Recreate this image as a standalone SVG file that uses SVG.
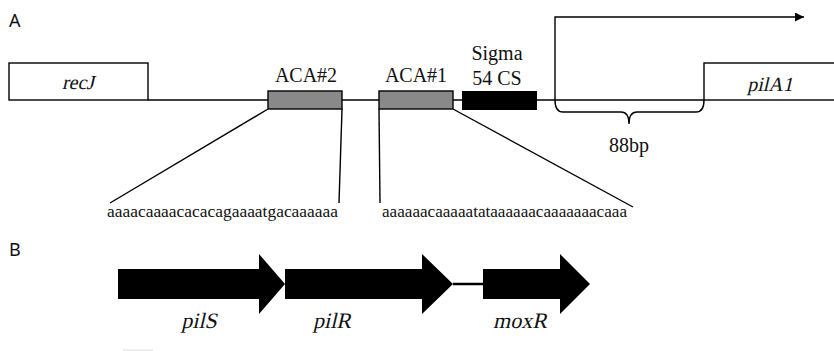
<svg xmlns="http://www.w3.org/2000/svg" width="834" height="351" viewBox="0 0 834 351">
<style>
.ln{stroke:#000;stroke-width:1.4;fill:none}
.box{fill:#fff;stroke:#000;stroke-width:1.4}
.aca{fill:#898989;stroke:#000;stroke-width:1.4}
.t{font-family:"Liberation Serif","Times New Roman",serif;fill:#111}
.it{font-family:"Liberation Serif","Times New Roman",serif;fill:#111;text-anchor:middle}
.seq{font-family:"Liberation Serif","Times New Roman",serif;font-size:17px;fill:#111}
.pl{font-family:"Noto Sans","Liberation Sans",sans-serif;font-size:18px;fill:#111}
</style>
<defs>
<marker id="ah" viewBox="0 0 10 10" refX="10" refY="5" markerWidth="9" markerHeight="9" markerUnits="userSpaceOnUse" orient="auto">
<path d="M0,0 L10,5 L0,10 z" fill="#000"/>
</marker>
</defs>
<text class="pl" x="9" y="27">A</text>
<text class="pl" x="9" y="256">B</text>
<g id="connectors">
<line class="ln" x1="148" y1="100" x2="704" y2="100"/>
<path class="ln" d="M555,100 V17 H804" marker-end="url(#ah)"/>
<path class="ln" d="M555,100 Q555,112 563,112 H621 Q629,112 629,124 Q629,112 637,112 H696 Q704,112 704,100"/>
<line class="ln" x1="268" y1="109" x2="110" y2="203"/>
<line class="ln" x1="342" y1="109" x2="339" y2="203"/>
<line class="ln" x1="379" y1="109" x2="380" y2="203"/>
<line class="ln" x1="453" y1="109" x2="633" y2="207"/>
<line x1="453" y1="284" x2="483" y2="284" stroke="#000" stroke-width="2.5"/>
</g>
<g id="recJ">
<rect class="box" x="9" y="63" width="139" height="37"/>
<text class="it" transform="translate(78,89) skewX(-13)" font-size="20">recJ</text>
</g>
<g id="aca2">
<rect class="aca" x="268" y="91" width="74" height="18"/>
<text class="t" x="306" y="82" font-size="20" text-anchor="middle">ACA#2</text>
</g>
<g id="aca1">
<rect class="aca" x="379" y="91" width="74" height="18"/>
<text class="t" x="416" y="82" font-size="20" text-anchor="middle">ACA#1</text>
</g>
<g id="sigma">
<rect x="462" y="91" width="75" height="19" fill="#000"/>
<text class="t" x="497" y="60" font-size="20" text-anchor="middle">Sigma</text>
<text class="t" x="497" y="85" font-size="20" text-anchor="middle">54 CS</text>
</g>
<g id="pilA1">
<rect class="box" x="704" y="63" width="140" height="37"/>
<text class="it" transform="translate(770,91) skewX(-13)" font-size="20">pilA1</text>
</g>
<g id="bp">
<text class="t" x="629" y="152" font-size="20" text-anchor="middle">88bp</text>
</g>
<g id="seq2">
<text class="seq" x="107" y="217" textLength="231" lengthAdjust="spacingAndGlyphs">aaaacaaaacacacagaaaatgacaaaaaa</text>
</g>
<g id="seq1">
<text class="seq" x="382" y="217" textLength="245" lengthAdjust="spacingAndGlyphs">aaaaaacaaaaatataaaaaacaaaaaaacaaa</text>
</g>
<g id="pilS">
<path d="M118,269 H259 V254 L285,284 L259,314 V299 H118 z" fill="#000"/>
<text class="it" transform="translate(199,328) skewX(-13)" font-size="22">pilS</text>
</g>
<g id="pilR">
<path d="M285,269 H422 V254 L453,284 L422,314 V299 H285 z" fill="#000"/>
<text class="it" transform="translate(332,328) skewX(-13)" font-size="22">pilR</text>
</g>
<g id="moxR">
<path d="M483,269 H560 V254 L590,284 L560,314 V299 H483 z" fill="#000"/>
<text class="it" transform="translate(520,328) skewX(-13)" font-size="22">moxR</text>
</g>
<rect x="123" y="349" width="30" height="2" fill="#eee"/>
</svg>
